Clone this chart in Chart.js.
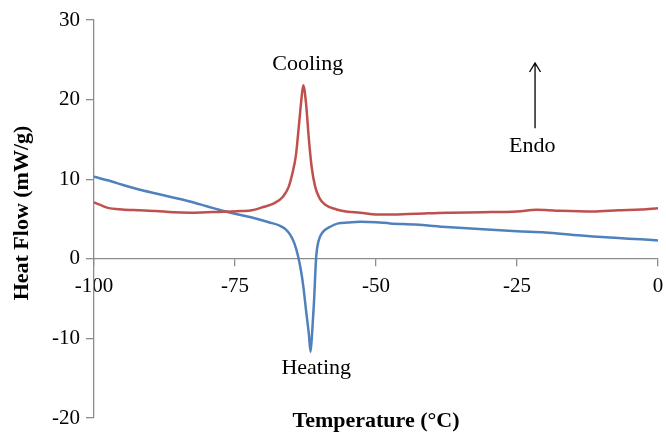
<!DOCTYPE html>
<html>
<head>
<meta charset="utf-8">
<script src="https://cdn.jsdelivr.net/npm/chart.js@4"></script>
<style>
  html, body { margin: 0; padding: 0; background: #fff; overflow: hidden; }
  #wrap { width: 666px; height: 433px; position: relative; }
</style>
</head>
<body>
<div id="wrap"><canvas id="c" width="666" height="433"></canvas></div>
<script>
// ---- Data ----
const heatingTemp = [-100, -97, -95, -92, -89, -86, -83, -80, -77, -74, -71, -69, -67, -66, -65.2, -64.5, -63.8, -63.3, -62.9, -62.4, -61.9, -61.6, -61.3, -61.0, -60.6, -60.2, -59.5, -58.2, -56.7, -55, -52.8, -50, -47.5, -43, -37.5, -31, -25, -20, -15, -11.5, -7, -3, 0];
const heatingFlow = [10.3, 9.75, 9.3, 8.7, 8.2, 7.7, 7.2, 6.6, 6.0, 5.5, 5.0, 4.6, 4.15, 3.7, 3.0, 2.0, 0.3, -1.5, -3.4, -6.5, -9.5, -11.7, -9.0, -5.5, 0.3, 2.2, 3.3, 4.0, 4.45, 4.55, 4.65, 4.6, 4.45, 4.3, 4.0, 3.7, 3.45, 3.3, 3.0, 2.8, 2.6, 2.45, 2.3];

const coolingTemp = [-100, -99, -97.5, -95, -92, -89, -86, -83, -80, -77, -74, -72, -70, -68, -66.5, -65.5, -64.8, -64.2, -63.7, -63.3, -62.9, -62.4, -61.9, -61.4, -60.8, -60, -59, -57, -55, -52.8, -50, -47.5, -43, -37.5, -31, -25, -21.5, -18, -11.5, -7, -3, 0];
const coolingFlow = [7.1, 6.8, 6.4, 6.2, 6.1, 6.0, 5.85, 5.8, 5.85, 5.9, 6.0, 6.1, 6.5, 7.0, 7.8, 9.0, 10.8, 13.0, 16.5, 19.5, 21.8, 19.5, 15.0, 11.5, 9.1, 7.6, 6.8, 6.2, 5.9, 5.8, 5.55, 5.55, 5.65, 5.8, 5.85, 5.95, 6.15, 6.05, 5.95, 6.1, 6.2, 6.35];

const xTicks = [-100, -75, -50, -25, 0];
const yTicks = [-20, -10, 0, 10, 20, 30];
const xTitle = 'Temperature (°C)';
const yTitle = 'Heat Flow (mW/g)';
const labelCooling = 'Cooling';
const labelHeating = 'Heating';
const labelEndo = 'Endo';

const FONT = '"Liberation Serif", "Times New Roman", serif';
const AXIS_COLOR = '#8c8c8c';

function toPoints(xs, ys) { return xs.map((x, i) => ({ x: x, y: ys[i] })); }

const annotatePlugin = {
  id: 'annotate',
  afterDraw(chart) {
    const ctx = chart.ctx;
    const xs = chart.scales.x, ys = chart.scales.y;
    const px = v => xs.getPixelForValue(v);
    const py = v => ys.getPixelForValue(v);
    ctx.save();
    ctx.fillStyle = '#000';
    ctx.font = '22px ' + FONT;
    ctx.textAlign = 'center';
    ctx.textBaseline = 'middle';
    ctx.fillText(labelCooling, px(-62.1), py(24.5));
    ctx.fillText(labelHeating, px(-60.6), py(-13.8));
    ctx.fillText(labelEndo, px(-22.3), py(14.2));
    // arrow
    const ax = px(-21.8), y1 = py(16.4), y2 = py(24.6);
    ctx.strokeStyle = '#000';
    ctx.lineWidth = 1.3;
    ctx.beginPath();
    ctx.moveTo(ax, y1); ctx.lineTo(ax, y2);
    ctx.moveTo(ax - 5.5, y2 + 9); ctx.lineTo(ax, y2); ctx.lineTo(ax + 5.5, y2 + 9);
    ctx.stroke();
    // x-axis title
    ctx.font = 'bold 22px ' + FONT;
    ctx.textBaseline = 'middle';
    ctx.fillText(xTitle, (chart.chartArea.left + chart.chartArea.right) / 2, 421);
    // y-axis title
    ctx.translate(22, (chart.chartArea.top + chart.chartArea.bottom) / 2 - 6);
    ctx.rotate(-Math.PI / 2);
    ctx.fillText(yTitle, 0, 0);
    ctx.restore();
  }
};

new Chart(document.getElementById('c'), {
  type: 'scatter',
  data: {
    datasets: [
      {
        label: 'Cooling',
        data: toPoints(coolingTemp, coolingFlow),
        showLine: true,
        borderColor: '#C0504D',
        borderWidth: 2.5,
        pointRadius: 0,
        cubicInterpolationMode: 'monotone'
      },
      {
        label: 'Heating',
        data: toPoints(heatingTemp, heatingFlow),
        showLine: true,
        borderColor: '#4F81BD',
        borderWidth: 2.5,
        pointRadius: 0,
        cubicInterpolationMode: 'monotone'
      }
    ]
  },
  options: {
    responsive: false,
    animation: false,
    layout: { padding: { left: 0, top: 20, right: 8, bottom: 15 } },
    plugins: { legend: { display: false }, tooltip: { enabled: false } },
    scales: {
      x: {
        type: 'linear',
        min: -100, max: 0,
        position: { y: 0 },
        afterBuildTicks(axis) { axis.ticks = xTicks.map(v => ({ value: v })); },
        afterFit(axis) { axis.paddingLeft = 0; axis.paddingRight = 0; axis.paddingTop = 0; axis.paddingBottom = 0; },
        ticks: { color: '#000', font: { family: FONT, size: 21 }, padding: 8, maxRotation: 0, autoSkip: false },
        grid: { drawOnChartArea: false, drawTicks: true, tickLength: 7, color: AXIS_COLOR, lineWidth: 1.3 },
        border: { color: AXIS_COLOR, width: 1.3 }
      },
      y: {
        min: -20, max: 30,
        afterBuildTicks(axis) { axis.ticks = yTicks.map(v => ({ value: v })); },
        afterFit(axis) { axis.width = 94; axis.paddingTop = 0; axis.paddingBottom = 0; axis.paddingLeft = 0; axis.paddingRight = 0; },
        ticks: { color: '#000', font: { family: FONT, size: 21 }, padding: 6 },
        grid: { drawOnChartArea: false, drawTicks: true, tickLength: 8, color: AXIS_COLOR, lineWidth: 1.3 },
        border: { color: AXIS_COLOR, width: 1.3 }
      }
    }
  },
  plugins: [annotatePlugin]
});
</script>
</body>
</html>
